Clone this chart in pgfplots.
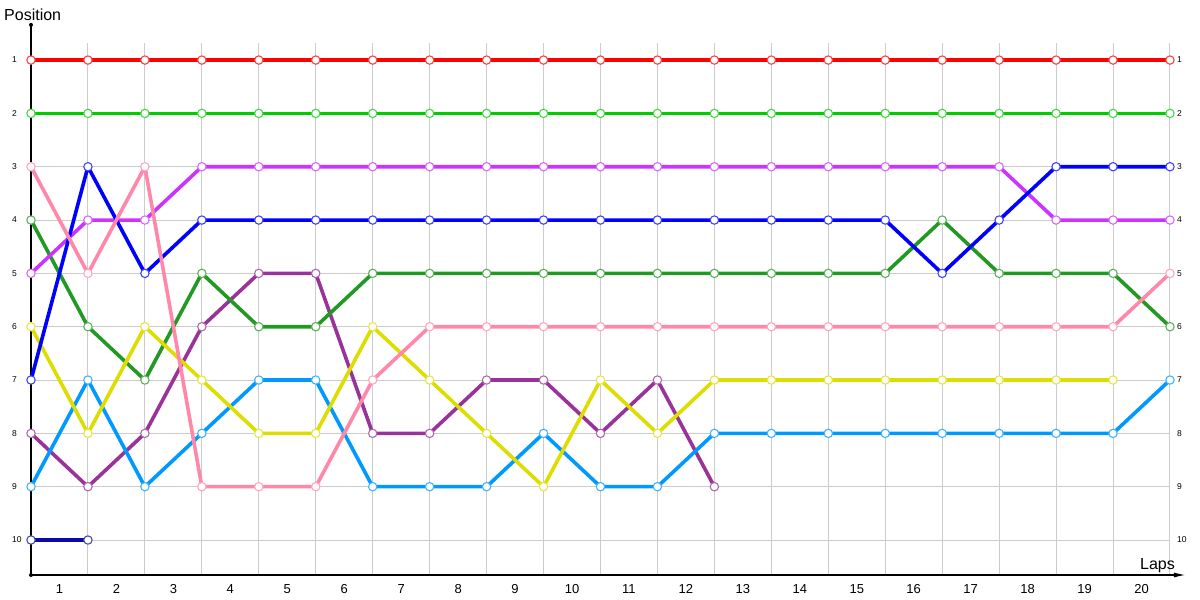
\documentclass[border=0pt]{standalone}
\usepackage{pgfplots}
\pgfplotsset{compat=1.18}
\usepackage{fontspec}
\setmainfont{Liberation Sans}
\usetikzlibrary{arrows.meta}
\definecolor{cRed}{HTML}{FF0000}
\definecolor{cGreen}{HTML}{00CC00}
\definecolor{cBlue}{HTML}{0000FF}
\definecolor{cMag}{HTML}{CC33FF}
\definecolor{cDkGreen}{HTML}{229922}
\definecolor{cPink}{HTML}{FF88AA}
\definecolor{cYellow}{HTML}{DDDD00}
\definecolor{cPurple}{HTML}{993399}
\definecolor{cLtBlue}{HTML}{0099FF}
\definecolor{cDkBlue}{HTML}{0A0AAA}
\definecolor{gridc}{HTML}{CCCCCC}
\pgfplotsset{ser/.style={color=#1, line width=3.6pt, line join=round, mark=*, mark size=4.2pt,
  mark options={solid, fill=white, line width=1.1pt, draw=#1!75!white}}}
\begin{document}
\begin{tikzpicture}
\useasboundingbox (0,0) rectangle (1200pt,600pt);
\begin{axis}[
  at={(31pt,25pt)}, anchor=south west,
  scale only axis, width=1139pt, height=532pt,
  xmin=0, xmax=20, ymin=0.68, ymax=10.656, y dir=reverse,
  axis line style={draw=none},
  clip=false,
  xtick={0.5,1.5,...,19.5},
  xticklabels={1,2,3,4,5,6,7,8,9,10,11,12,13,14,15,16,17,18,19,20},
  minor xtick={0,1,...,20},
  xminorgrids=true, xmajorgrids=false,
  ytick={1,...,10}, yticklabels={},
  ymajorgrids=true,
  major tick length=0pt, minor tick length=0pt,
  grid style={draw=gridc, line width=1pt},
  minor grid style={draw=gridc, line width=1pt},
  xticklabel style={font=\fontsize{13}{14}\selectfont, anchor=north, inner sep=0pt, yshift=-9.5pt},
  /pgf/number format/assume math mode=true,
]
% axis lines
\draw[line width=1.4pt] (axis cs:0,10.656) -- (axis cs:0,0.34);
\fill (axis cs:0,0.34) circle (2pt);
\fill (axis cs:0,10.656) circle (2pt);
\draw[line width=1.4pt, -{Latex[length=12pt,width=5pt]}] (axis cs:0,10.656) -- (axis cs:20.28,10.656);
\pgfplotsinvokeforeach{1,...,10}{
  \node[anchor=west, inner sep=0pt, font=\fontsize{8.5}{9}\selectfont] at (axis cs:0,#1) [xshift=-19pt] {#1};
  \node[anchor=west, inner sep=0pt, font=\fontsize{8.5}{9}\selectfont] at (axis cs:20,#1) [xshift=7pt] {#1};
}
% series
\addplot[ser=cPurple] coordinates {(0,8)(1,9)(2,8)(3,6)(4,5)(5,5)(6,8)(7,8)(8,7)(9,7)(10,8)(11,7)(12,9)};
\addplot[ser=cLtBlue] coordinates {(0,9)(1,7)(2,9)(3,8)(4,7)(5,7)(6,9)(7,9)(8,9)(9,8)(10,9)(11,9)(12,8)(13,8)(14,8)(15,8)(16,8)(17,8)(18,8)(19,8)(20,7)};
\addplot[ser=cDkGreen] coordinates {(0,4)(1,6)(2,7)(3,5)(4,6)(5,6)(6,5)(7,5)(8,5)(9,5)(10,5)(11,5)(12,5)(13,5)(14,5)(15,5)(16,4)(17,5)(18,5)(19,5)(20,6)};
\addplot[ser=cMag] coordinates {(0,5)(1,4)(2,4)(3,3)(4,3)(5,3)(6,3)(7,3)(8,3)(9,3)(10,3)(11,3)(12,3)(13,3)(14,3)(15,3)(16,3)(17,3)(18,4)(19,4)(20,4)};
\addplot[ser=cYellow] coordinates {(0,6)(1,8)(2,6)(3,7)(4,8)(5,8)(6,6)(7,7)(8,8)(9,9)(10,7)(11,8)(12,7)(13,7)(14,7)(15,7)(16,7)(17,7)(18,7)(19,7)};
\addplot[ser=cBlue] coordinates {(0,7)(1,3)(2,5)(3,4)(4,4)(5,4)(6,4)(7,4)(8,4)(9,4)(10,4)(11,4)(12,4)(13,4)(14,4)(15,4)(16,5)(17,4)(18,3)(19,3)(20,3)};
\addplot[ser=cPink] coordinates {(0,3)(1,5)(2,3)(3,9)(4,9)(5,9)(6,7)(7,6)(8,6)(9,6)(10,6)(11,6)(12,6)(13,6)(14,6)(15,6)(16,6)(17,6)(18,6)(19,6)(20,5)};
\addplot[ser=cGreen] coordinates {(0,2)(1,2)(2,2)(3,2)(4,2)(5,2)(6,2)(7,2)(8,2)(9,2)(10,2)(11,2)(12,2)(13,2)(14,2)(15,2)(16,2)(17,2)(18,2)(19,2)(20,2)};
\addplot[ser=cRed] coordinates {(0,1)(1,1)(2,1)(3,1)(4,1)(5,1)(6,1)(7,1)(8,1)(9,1)(10,1)(11,1)(12,1)(13,1)(14,1)(15,1)(16,1)(17,1)(18,1)(19,1)(20,1)};
\addplot[ser=cDkBlue] coordinates {(0,10)(1,10)};
\end{axis}
\node[anchor=base west, inner sep=0pt, font=\fontsize{16}{18}\selectfont] at (4pt,579pt) {Position};
\node[anchor=base east, inner sep=0pt, font=\fontsize{16}{18}\selectfont] at (1175pt,30pt) {Laps};
\end{tikzpicture}
\end{document}
